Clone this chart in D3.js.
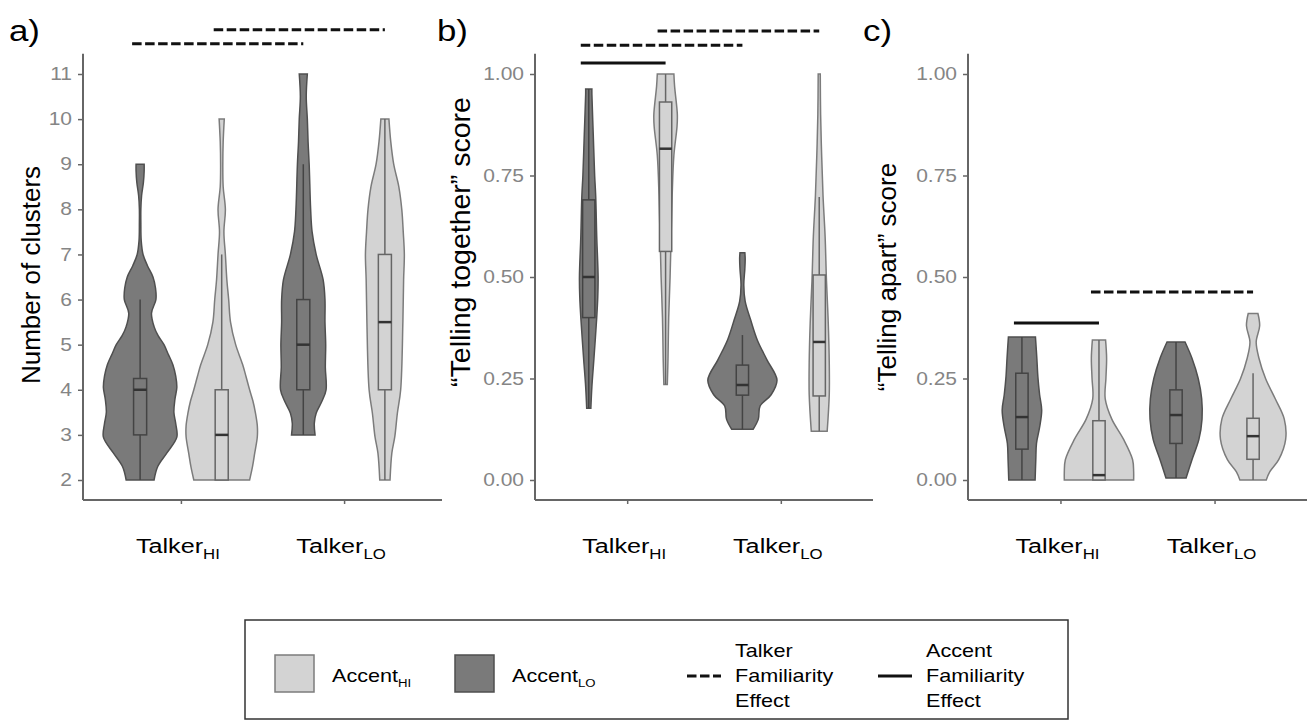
<!DOCTYPE html>
<html>
<head>
<meta charset="utf-8">
<script src="https://cdn.jsdelivr.net/npm/d3@7"></script>
<style>
  body { margin: 0; background: #fff; }
  svg text { font-family: "Liberation Sans", Arial, sans-serif; }
</style>
</head>
<body>
<svg id="chart"></svg>
<script>
const talkers = ["HI", "LO"];
const accents = ["LO", "HI"]; // dark (Accent LO) sits left of light (Accent HI)

const clustersTicks = [2, 3, 4, 5, 6, 7, 8, 9, 10, 11];
const scoreTicks = [0, 0.25, 0.5, 0.75, 1];

// violin outlines: [value, relative half-width]
const clustersViolins = [
  {talker: "HI", accent: "LO", shape: [[2, 0.38], [2.3, 0.48], [2.6, 0.73], [2.95, 1.0], [3.25, 0.97], [3.5, 0.92], [3.8, 0.95], [4.05, 1.0], [4.3, 0.97], [4.56, 0.89], [4.8, 0.76], [5.0, 0.65], [5.2, 0.49], [5.4, 0.38], [5.7, 0.31], [6.0, 0.43], [6.25, 0.42], [6.5, 0.35], [6.75, 0.2], [7.0, 0.08], [7.3, 0.03], [7.7, 0.02], [8.0, 0.02], [8.3, 0.04], [8.6, 0.09], [8.85, 0.11], [9, 0.11]]},
  {talker: "HI", accent: "HI", shape: [[2, 0.76], [2.3, 0.84], [2.6, 0.9], [2.96, 0.97], [3.2, 0.97], [3.48, 0.92], [3.75, 0.85], [4.0, 0.76], [4.3, 0.66], [4.56, 0.57], [5.0, 0.38], [5.5, 0.24], [6.0, 0.19], [6.44, 0.14], [7.0, 0.1], [7.5, 0.06], [8.0, 0.1], [8.5, 0.04], [9.0, 0.03], [9.5, 0.04], [10, 0.07]]},
  {talker: "LO", accent: "LO", shape: [[3, 0.32], [3.26, 0.3], [3.48, 0.35], [3.75, 0.51], [4, 0.62], [4.5, 0.6], [5, 0.61], [5.5, 0.59], [6, 0.59], [6.44, 0.54], [7, 0.35], [7.5, 0.24], [8, 0.2], [9, 0.16], [9.5, 0.13], [10, 0.11], [10.5, 0.08], [11, 0.11]]},
  {talker: "LO", accent: "HI", shape: [[2, 0.14], [2.6, 0.19], [2.96, 0.27], [3.48, 0.34], [4, 0.43], [5.5, 0.49], [6.44, 0.51], [7, 0.53], [7.5, 0.5], [8, 0.46], [8.5, 0.38], [9, 0.24], [9.5, 0.16], [10, 0.11]]}
];
const clustersBoxes = [
  {talker: "HI", accent: "LO", lo: 2, q1: 3, med: 4, q3: 4.25, hi: 6},
  {talker: "HI", accent: "HI", lo: 2, q1: 2, med: 3, q3: 4, hi: 7},
  {talker: "LO", accent: "LO", lo: 3, q1: 4, med: 5, q3: 6, hi: 9},
  {talker: "LO", accent: "HI", lo: 2, q1: 4, med: 5.5, q3: 7, hi: 10}
];
const clustersLinks = [
  {from: ["HI", "LO"], to: ["LO", "LO"], level: 11.67, kind: "talker"},
  {from: ["HI", "HI"], to: ["LO", "HI"], level: 11.98, kind: "talker"}
];

const togetherViolins = [
  {talker: "HI", accent: "LO", shape: [[0.177, 0.06], [0.23, 0.09], [0.3, 0.15], [0.4, 0.23], [0.45, 0.26], [0.5, 0.27], [0.6, 0.23], [0.7, 0.2], [0.75, 0.17], [0.85, 0.13], [0.95, 0.09], [0.963, 0.09]]},
  {talker: "HI", accent: "HI", shape: [[0.235, 0.05], [0.3, 0.07], [0.4, 0.09], [0.5, 0.13], [0.6, 0.16], [0.7, 0.19], [0.8, 0.24], [0.87, 0.33], [0.9, 0.34], [0.97, 0.26], [1.0, 0.24]]},
  {talker: "LO", accent: "LO", shape: [[0.125, 0.31], [0.15, 0.46], [0.182, 0.51], [0.21, 0.83], [0.246, 1.0], [0.296, 0.71], [0.345, 0.43], [0.394, 0.24], [0.44, 0.08], [0.48, 0.04], [0.52, 0.07], [0.545, 0.08], [0.56, 0.07]]},
  {talker: "LO", accent: "HI", shape: [[0.12, 0.23], [0.21, 0.29], [0.29, 0.29], [0.39, 0.26], [0.49, 0.21], [0.6, 0.17], [0.7, 0.11], [0.8, 0.07], [0.9, 0.04], [1.0, 0.03]]}
];
const togetherBoxes = [
  {talker: "HI", accent: "LO", lo: 0.177, q1: 0.40, med: 0.50, q3: 0.69, hi: 0.963},
  {talker: "HI", accent: "HI", lo: 0.235, q1: 0.563, med: 0.816, q3: 0.931, hi: 1.0},
  {talker: "LO", accent: "LO", lo: 0.125, q1: 0.209, med: 0.234, q3: 0.283, hi: 0.357},
  {talker: "LO", accent: "HI", lo: 0.12, q1: 0.207, med: 0.34, q3: 0.505, hi: 0.697}
];
const togetherLinks = [
  {from: ["HI", "LO"], to: ["HI", "HI"], level: 1.027, kind: "accent"},
  {from: ["HI", "LO"], to: ["LO", "LO"], level: 1.071, kind: "talker"},
  {from: ["HI", "HI"], to: ["LO", "HI"], level: 1.106, kind: "talker"}
];

const apartViolins = [
  {talker: "HI", accent: "LO", shape: [[0, 0.38], [0.05, 0.4], [0.09, 0.42], [0.13, 0.51], [0.172, 0.57], [0.21, 0.51], [0.254, 0.46], [0.3, 0.43], [0.352, 0.39]]},
  {talker: "HI", accent: "HI", shape: [[0, 1.0], [0.02, 1.0], [0.05, 0.97], [0.1, 0.71], [0.15, 0.37], [0.2, 0.18], [0.25, 0.2], [0.3, 0.22], [0.345, 0.19]]},
  {talker: "LO", accent: "LO", shape: [[0.005, 0.29], [0.05, 0.46], [0.1, 0.66], [0.15, 0.75], [0.2, 0.74], [0.25, 0.64], [0.3, 0.46], [0.34, 0.26]]},
  {talker: "LO", accent: "HI", shape: [[0, 0.38], [0.02, 0.48], [0.05, 0.74], [0.1, 0.94], [0.15, 0.9], [0.2, 0.64], [0.25, 0.36], [0.3, 0.17], [0.34, 0.09], [0.38, 0.19], [0.41, 0.14]]}
];
const apartBoxes = [
  {talker: "HI", accent: "LO", lo: 0, q1: 0.076, med: 0.155, q3: 0.263, hi: 0.352},
  {talker: "HI", accent: "HI", lo: 0, q1: 0, med: 0.012, q3: 0.146, hi: 0.345},
  {talker: "LO", accent: "LO", lo: 0.005, q1: 0.09, med: 0.16, q3: 0.222, hi: 0.34},
  {talker: "LO", accent: "HI", lo: 0, q1: 0.051, med: 0.108, q3: 0.152, hi: 0.263}
];
const apartLinks = [
  {from: ["HI", "LO"], to: ["HI", "HI"], level: 0.387, kind: "accent"},
  {from: ["HI", "HI"], to: ["LO", "HI"], level: 0.463, kind: "talker"}
];

const legendKeys = [
  {kind: "fill", accent: "HI", label: "Accent", sub: "HI"},
  {kind: "fill", accent: "LO", label: "Accent", sub: "LO"},
  {kind: "talker", lines: ["Talker", "Familiarity", "Effect"]},
  {kind: "accent", lines: ["Accent", "Familiarity", "Effect"]}
];

const width = 1308;
const height = 720;
const plotTop = 74;
const plotBottom = 480;
const axisY = 500;
const sx = 1.2; // the source figure is a little wider than tall in its lettering

const fills = {LO: "#7a7a7a", HI: "#d3d3d3"};
const outlines = {LO: "#4f4f4f", HI: "#7c7c7c"};
const boxLines = {LO: "#444", HI: "#666"};

const svg = d3.select("#chart")
  .attr("width", width)
  .attr("height", height);

const panels = [
  {tag: "a)", tagX: 9, title: "Number of clusters", titleX: 40, titleY: 275, titleSize: 26,
    left: 83, right: 442, domain: [2, 11], ticks: clustersTicks, fmt: d3.format("d"),
    violins: clustersViolins, boxes: clustersBoxes, links: clustersLinks},
  {tag: "b)", tagX: 437, title: "\u201cTelling together\u201d score", titleX: 470, titleY: 242, titleSize: 28.5,
    left: 535, right: 873, domain: [0, 1], ticks: scoreTicks, fmt: d3.format(".2f"),
    violins: togetherViolins, boxes: togetherBoxes, links: togetherLinks},
  {tag: "c)", tagX: 863, title: "\u201cTelling apart\u201d score", titleX: 896, titleY: 277, titleSize: 26,
    left: 968, right: 1307, domain: [0, 1], ticks: scoreTicks, fmt: d3.format(".2f"),
    violins: apartViolins, boxes: apartBoxes, links: apartLinks}
];

panels.forEach(drawPanel);
drawLegend();

function drawPanel(p) {
  const g = svg.append("g");

  const x = d3.scalePoint()
    .domain(talkers)
    .range([p.left, p.right])
    .padding(0.6);
  const step = x.step();
  const dodge = d3.scaleBand()
    .domain(accents)
    .range([-step / 2, step / 2]);
  const cx = (t, a) => x(t) + dodge(a) + dodge.bandwidth() / 2;

  const y = d3.scaleLinear()
    .domain(p.domain)
    .range([plotBottom, plotTop]);
  const span = (plotBottom - plotTop) * 0.05;

  const halfWidth = d3.scaleLinear()
    .domain([0, 1])
    .range([0, 0.225 * step]);

  // y axis
  const yAxis = g.append("g")
    .attr("transform", `translate(${p.left},0)`)
    .call(d3.axisLeft(y).tickValues(p.ticks).tickFormat(p.fmt).tickSize(5).tickPadding(6));
  yAxis.select(".domain").remove();
  yAxis.selectAll(".tick line").attr("stroke", "#666").attr("stroke-width", 1.5);
  yAxis.selectAll(".tick text")
    .attr("x", null)
    .attr("transform", `translate(-11,0) scale(${sx},1)`)
    .attr("fill", "#858585")
    .style("font-size", "17.5px");

  // x axis
  const xAxis = g.append("g")
    .attr("transform", `translate(0,${axisY})`)
    .call(d3.axisBottom(x).tickSize(4).tickSizeOuter(0).tickFormat(""));
  xAxis.select(".domain").remove();
  xAxis.selectAll(".tick line").attr("stroke", "#666").attr("stroke-width", 1.5);

  g.append("line")
    .attr("x1", p.left).attr("x2", p.left)
    .attr("y1", plotTop - span).attr("y2", axisY)
    .attr("stroke", "#666").attr("stroke-width", 2);
  g.append("line")
    .attr("x1", p.left).attr("x2", p.right)
    .attr("y1", axisY).attr("y2", axisY)
    .attr("stroke", "#666").attr("stroke-width", 2);

  // talker labels
  const lab = g.append("g")
    .selectAll("text")
    .data(talkers)
    .enter()
    .append("text")
    .attr("transform", d => `translate(${x(d) - 3},553) scale(${sx},1)`)
    .attr("text-anchor", "middle")
    .style("font-size", "21px")
    .attr("fill", "#000");
  lab.append("tspan").text("Talker");
  lab.append("tspan")
    .attr("dy", 6)
    .style("font-size", "14px")
    .text(d => d);

  // y title
  g.append("text")
    .attr("transform", `translate(${p.titleX},${p.titleY}) rotate(-90)`)
    .attr("text-anchor", "middle")
    .style("font-size", p.titleSize + "px")
    .attr("fill", "#000")
    .text(p.title);

  // panel tag
  g.append("text")
    .attr("transform", `translate(${p.tagX},41) scale(${sx},1)`)
    .style("font-size", "29px")
    .attr("fill", "#000")
    .text(p.tag);

  // violins
  g.append("g")
    .selectAll("path")
    .data(p.violins)
    .enter()
    .append("path")
    .attr("d", v => d3.area()
      .curve(d3.curveCatmullRom)
      .y(d => y(d[0]))
      .x0(d => cx(v.talker, v.accent) - halfWidth(d[1]))
      .x1(d => cx(v.talker, v.accent) + halfWidth(d[1]))(v.shape))
    .attr("fill", v => fills[v.accent])
    .attr("stroke", v => outlines[v.accent])
    .attr("stroke-width", 1.5);

  // boxes
  const boxW = 0.08 * step;
  const bx = g.append("g")
    .selectAll("g")
    .data(p.boxes)
    .enter()
    .append("g");
  bx.append("line")
    .attr("x1", b => cx(b.talker, b.accent))
    .attr("x2", b => cx(b.talker, b.accent))
    .attr("y1", b => y(b.lo))
    .attr("y2", b => y(b.hi))
    .attr("stroke", b => boxLines[b.accent])
    .attr("stroke-width", 1.5);
  bx.append("rect")
    .attr("x", b => cx(b.talker, b.accent) - boxW / 2)
    .attr("width", boxW)
    .attr("y", b => y(b.q3))
    .attr("height", b => Math.max(0.5, y(b.q1) - y(b.q3)))
    .attr("fill", b => fills[b.accent])
    .attr("stroke", b => boxLines[b.accent])
    .attr("stroke-width", 1.5);
  bx.append("line")
    .attr("x1", b => cx(b.talker, b.accent) - boxW / 2)
    .attr("x2", b => cx(b.talker, b.accent) + boxW / 2)
    .attr("y1", b => y(b.med))
    .attr("y2", b => y(b.med))
    .attr("stroke", "#333")
    .attr("stroke-width", 2.5);

  // significance bars
  g.append("g")
    .selectAll("line")
    .data(p.links)
    .enter()
    .append("line")
    .attr("x1", l => cx(l.from[0], l.from[1]) - 8)
    .attr("x2", l => cx(l.to[0], l.to[1]))
    .attr("y1", l => y(l.level))
    .attr("y2", l => y(l.level))
    .attr("stroke", "#111")
    .attr("stroke-width", 3)
    .attr("stroke-dasharray", l => l.kind === "talker" ? "9.5,3.5" : null);
}

function drawLegend() {
  const lg = svg.append("g");
  lg.append("rect")
    .attr("x", 245).attr("y", 620)
    .attr("width", 823).attr("height", 99)
    .attr("fill", "none")
    .attr("stroke", "#333")
    .attr("stroke-width", 1.5);

  const keyX = [275, 455, 687, 878];

  legendKeys.forEach((k, i) => {
    const x0 = keyX[i];
    if (k.kind === "fill") {
      lg.append("rect")
        .attr("x", x0).attr("y", 655)
        .attr("width", 39).attr("height", 37)
        .attr("fill", fills[k.accent])
        .attr("stroke", outlines[k.accent])
        .attr("stroke-width", 1.5);
      const t = lg.append("text")
        .attr("transform", `translate(${x0 + 57},682) scale(${sx},1)`)
        .style("font-size", "18px")
        .attr("fill", "#000");
      t.append("tspan").text(k.label);
      t.append("tspan").attr("dy", 5).style("font-size", "11px").text(k.sub);
    } else {
      lg.append("line")
        .attr("x1", x0).attr("x2", x0 + 34)
        .attr("y1", 676).attr("y2", 676)
        .attr("stroke", "#111")
        .attr("stroke-width", 3)
        .attr("stroke-dasharray", k.kind === "talker" ? "9.5,3.5" : null);
      lg.append("g")
        .selectAll("text")
        .data(k.lines)
        .enter()
        .append("text")
        .attr("transform", (d, j) => `translate(${x0 + 48},${657 + j * 25}) scale(${sx},1)`)
        .style("font-size", "18px")
        .attr("fill", "#000")
        .text(d => d);
    }
  });
}
</script>
</body>
</html>
